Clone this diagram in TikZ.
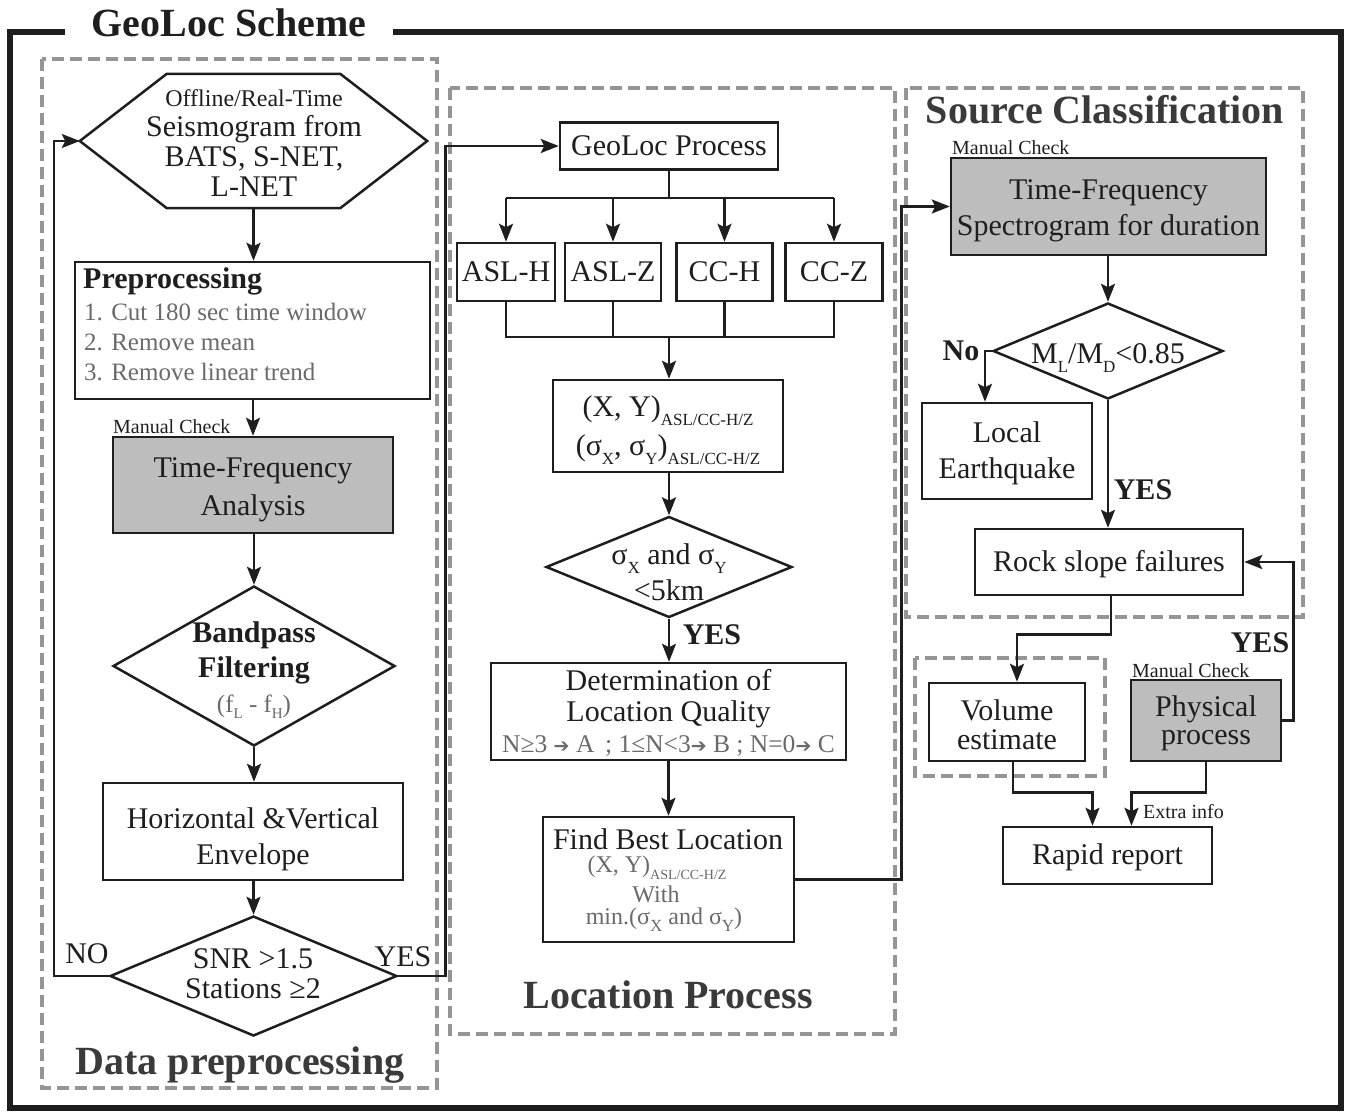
\documentclass[tikz,border=0pt]{standalone}
\usepackage{fontspec}
\setmainfont{Liberation Serif}
\newfontfamily\djv{DejaVu Sans}
\usetikzlibrary{arrows.meta,shapes.geometric}
\definecolor{boxgray}{HTML}{BDBDBD}
\definecolor{dashgray}{HTML}{959595}
\definecolor{txtgray}{HTML}{6A6A6A}
\definecolor{ttlgray}{HTML}{3A3A3A}
\definecolor{ink}{HTML}{1E1E1E}
\newcommand\fsz[2]{\fontsize{#1}{#2}\selectfont}
\newcommand\sbx[3][9pt]{\raisebox{-#1}{\fontsize{#2}{#2}\selectfont #3}}
\newcommand\rarr{{\djv\fsz{19}{19}➔}}
\begin{document}
\begin{tikzpicture}[x=1pt,y=-1pt,
  box/.style={draw=ink,line width=2.5pt,rectangle,inner sep=0pt,align=center,font=\fsz{30}{36},text=ink,fill=white},
  gbox/.style={box,fill=boxgray},
  dia/.style={draw=ink,line width=2.5pt,diamond,inner sep=0pt,fill=white},
  frm/.style={draw=dashgray,line width=3.2pt,dash pattern=on 12pt off 6pt},
  con/.style={draw=ink,line width=2.5pt},
  arr/.style={con,-{Stealth[length=18pt,width=14pt,inset=3.5pt]}},
  ttl/.style={font=\bfseries\fsz{40}{44},text=ttlgray,inner sep=0pt,anchor=base},
  txt/.style={font=\fsz{30}{36},text=ink,align=center,inner sep=0pt},
  lbl/.style={font=\fsz{30}{30},text=ink,inner sep=0pt},
  blbl/.style={font=\bfseries\fsz{30}{30},text=ink,inner sep=0pt},
  sml/.style={font=\fsz{20}{20},text=ink,inner sep=0pt,anchor=base west},
  gtx/.style={font=\fsz{24}{28},text=txtgray,inner sep=0pt,anchor=base},
]
\useasboundingbox (0,0) rectangle (1346,1112);
% outer frame and title
\draw[ink,line width=6pt,line join=miter] (65,31.5) -- (10,31.5) -- (10,1108) -- (1341,1108) -- (1341,31.5) -- (393,31.5);
\node[font=\bfseries\fsz{40}{44},text=ink,inner sep=0pt,anchor=base] (title) at (229,36) {GeoLoc Scheme};
% dashed group frames
\draw[frm] (42,59) rectangle (437,1088);
\draw[frm] (450,88) rectangle (895,1034);
\draw[frm] (906,88) rectangle (1303,617);
\draw[frm] (915,658) rectangle (1105,776);
\node[ttl] (tdp) at (240,1074) {Data preprocessing};
\node[ttl] (tlp) at (668,1008) {Location Process};
\node[ttl] (tsc) at (1105,123) {Source Classification};

% ---------- Data preprocessing ----------
\node[inner sep=0pt,minimum width=347pt,minimum height=134pt] (hex) at (253.5,141) {};
\draw[con,line join=miter] (hex.west) -- ([xshift=87pt]hex.north west) -- ([xshift=-87pt]hex.north east) -- (hex.east) -- ([xshift=-87pt]hex.south east) -- ([xshift=87pt]hex.south west) -- cycle;
\node[txt,font=\fsz{30}{30}] (hext) at (254,143) {{\fsz{24}{30}Offline/Real-Time}\\Seismogram from\\BATS, S-NET,\\L-NET};

\node[box,minimum width=355pt,minimum height=137pt] (pre) at (252.5,330.5) {};
\node[blbl,anchor=base west] (pp1) at (83,288) {Preprocessing};
\node[gtx,anchor=base west,font=\fsz{25}{25}] (pp2) at (84,320) {1. Cut 180 sec time window};
\node[gtx,anchor=base west,font=\fsz{25}{25}] (pp3) at (84,350) {2. Remove mean};
\node[gtx,anchor=base west,font=\fsz{25}{25}] (pp4) at (84,380) {3. Remove linear trend};

\node[sml] (mc1) at (113,433) {Manual Check};
\node[gbox,minimum width=280pt,minimum height=96pt] (tfa) at (253,485) {};
\node[txt,font=\fsz{30}{38}] (tfat) at (253,490) {Time-Frequency\\Analysis};

\node[dia,minimum width=282pt,minimum height=160pt] (bp) at (254,666) {};
\node[txt,font=\bfseries\fsz{30}{35}] (bpt) at (254,670) {Bandpass\\Filtering\\{\mdseries\color{txtgray}\fsz{25}{35}(f\sbx[6pt]{15}{L} - f\sbx[6pt]{15}{H})}};

\node[box,minimum width=300pt,minimum height=97pt] (env) at (253,831.5) {};
\node[txt] (envt) at (253,839) {Horizontal \&Vertical\\Envelope};

\node[dia,minimum width=287pt,minimum height=120pt] (snr) at (253.5,976) {};
\node[txt,font=\fsz{30}{30}] (snrt) at (253,974) {SNR >1.5\\Stations ≥2};
\node[lbl] (no1) at (87,954) {NO};
\node[lbl] (yes1) at (403,957) {YES};

% ---------- Location process ----------
\node[box,minimum width=218pt,minimum height=47pt] (geo) at (669,146) {GeoLoc Process};
\node[box,minimum width=98pt,minimum height=58pt] (aslh) at (506,272) {ASL-H};
\node[box,minimum width=96pt,minimum height=58pt] (aslz) at (613,272) {ASL-Z};
\node[box,minimum width=96pt,minimum height=58pt] (cch) at (724.5,272) {CC-H};
\node[box,minimum width=97pt,minimum height=58pt] (ccz) at (834,272) {CC-Z};

\node[box,minimum width=230pt,minimum height=92pt] (xy) at (668,426) {};
\node[txt,font=\fsz{30}{39}] (xyt) at (668,430) {(X, Y)\sbx{17}{ASL/CC-H/Z}\\(σ\sbx{17}{X}, σ\sbx{17}{Y})\sbx{17}{ASL/CC-H/Z}};

\node[dia,minimum width=246pt,minimum height=101pt] (sig) at (669,567) {};
\node[txt] (sigt) at (669,572) {σ\sbx{17}{X} and σ\sbx{17}{Y}\\<5km};
\node[blbl] (yes2) at (712,635) {YES};

\node[box,minimum width=355pt,minimum height=97pt] (det) at (668.5,711.5) {};
\node[txt,font=\fsz{30}{31}] (dett) at (668.5,713) {Determination of\\Location Quality\\{\color{txtgray}\fsz{25.5}{31}N≥3 \rarr\ A\, ; 1≤N<3\rarr\ B ; N=0\rarr\ C}};

\node[box,minimum width=251pt,minimum height=125pt] (fb) at (668.5,879.5) {};
\node[lbl,anchor=base] (fb1) at (668,849) {Find Best Location};
\node[gtx] (fb2) at (657,872) {(X, Y)\sbx[7pt]{14}{ASL/CC-H/Z}};
\node[gtx] (fb3) at (656,902) {With};
\node[gtx] (fb4) at (664,924) {min.(σ\sbx[7pt]{17}{X} and σ\sbx[7pt]{17}{Y})};

% ---------- Source classification ----------
\node[sml] (mc2) at (952,154) {Manual Check};
\node[gbox,minimum width=315pt,minimum height=97pt] (tfs) at (1108.5,206.5) {};
\node[txt] (tfst) at (1108.5,210.5) {Time-Frequency\\Spectrogram for duration};
\node[dia,minimum width=230pt,minimum height=96pt] (ml) at (1108,351) {};
\node[lbl] (mlt) at (1108,358) {M\sbx{17}{L}/M\sbx{17}{D}<0.85};
\node[blbl] (no2) at (961,351) {No};
\node[box,minimum width=170pt,minimum height=96pt] (le) at (1007,451) {};
\node[txt] (let) at (1007,453) {Local\\Earthquake};
\node[blbl] (yes3) at (1143,490) {YES};
\node[box,minimum width=268pt,minimum height=66pt] (rs) at (1109,562) {};
\node[lbl] (rst) at (1109,564) {Rock slope failures};
\node[box,minimum width=156pt,minimum height=78pt] (vol) at (1007,722) {};
\node[txt,font=\fsz{30}{29}] (volt) at (1007,725) {Volume\\estimate};
\node[sml] (mc3) at (1132,677) {Manual Check};
\node[gbox,minimum width=150pt,minimum height=81pt] (phys) at (1206,720.5) {};
\node[txt,font=\fsz{30}{28}] (physt) at (1206,723.5) {Physical\\process};
\node[blbl] (yes4) at (1260,643) {YES};
\node[box,minimum width=209pt,minimum height=57pt] (rr) at (1107.5,855.5) {};
\node[lbl] (rrt) at (1107.5,857) {Rapid report};
\node[sml] (ei) at (1143,818) {Extra info};

% ---------- connectors ----------
\draw[arr] (hex.south) -- (hex.south |- pre.north);
\draw[arr] (pre.south -| tfa.north) -- (tfa.north);
\draw[arr] (tfa.south -| bp.north) -- (bp.north);
\draw[arr] (bp.south) -- (bp.south |- env.north);
\draw[arr] (env.south -| snr.north) -- (snr.north);
\draw[arr] (snr.west) -- ++(-55,0) |- (hex.west);
\draw[arr] (snr.east) -- ++(47,0) |- (geo.west);

\coordinate (br) at (669,198);
\coordinate (mg) at (669,337);
\draw[con] (geo.south) -- (br);
\draw[con] (aslh.north |- br) -- (ccz.north |- br);
\foreach \n in {aslh,aslz,cch,ccz} \draw[arr] (\n.north |- br) -- (\n.north);
\draw[con] (aslh.south) -- (aslh.south |- mg) -- (ccz.south |- mg) -- (ccz.south);
\draw[con] (aslz.south) -- (aslz.south |- mg);
\draw[con] (cch.south) -- (cch.south |- mg);
\draw[arr] (mg) -- (mg |- xy.north);
\draw[arr] (xy.south -| sig.north) -- (sig.north);
\draw[arr] (sig.south) -- (sig.south |- det.north);
\draw[arr] (det.south) -- (det.south |- fb.north);
\draw[arr] (fb.east) -- ++(106,0) |- (tfs.west);

\draw[arr] (tfs.south -| ml.north) -- (ml.north);
\draw[arr] (ml.west) -| ([xshift=-22pt]le.north);
\draw[arr] (ml.south) -- (ml.south |- rs.north);
\draw[arr] ([xshift=2pt]rs.south) -- ++(0,38) -| ([xshift=10pt]vol.north);
\draw[arr] (phys.east) -- ++(11,0) |- (rs.east);
\draw[arr] ([xshift=6pt]vol.south) -- ++(0,30) -| ([xshift=-15pt]rr.north);
\draw[arr] (phys.south) -- ++(0,30) -| ([xshift=24pt]rr.north);
\end{tikzpicture}
\end{document}
